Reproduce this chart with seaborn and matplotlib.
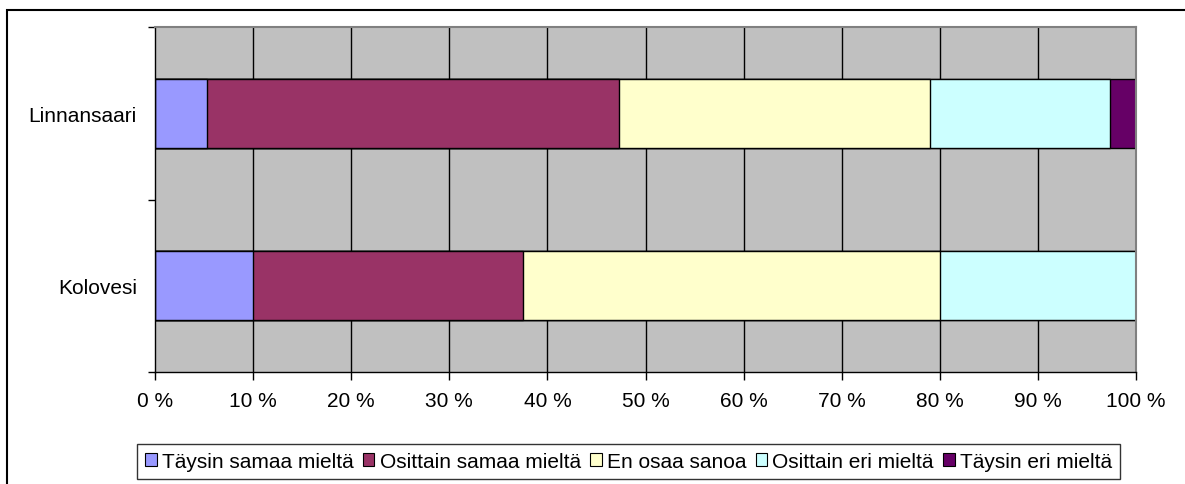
import matplotlib
matplotlib.use("Agg")
import matplotlib.pyplot as plt
import seaborn as sns
import numpy as np
import pandas as pd
from matplotlib.patches import Patch, Rectangle
from matplotlib.ticker import FixedLocator

categories = ["Linnansaari", "Kolovesi"]
series_names = ["Täysin samaa mieltä", "Osittain samaa mieltä", "En osaa sanoa",
                "Osittain eri mieltä", "Täysin eri mieltä"]
taysin_samaa = [5.3, 10.0]
osittain_samaa = [42.0, 27.5]
en_osaa = [31.7, 42.5]
osittain_eri = [18.4, 20.0]
taysin_eri = [2.6, 0.0]
colors = ["#9999FF", "#993366", "#FFFFCC", "#CCFFFF", "#660066"]
x_ticklabels = [f"{v} %" for v in range(0, 101, 10)]

sns.set_theme(style="white")
plt.rcParams['font.family'] = ['Liberation Sans', 'DejaVu Sans']
plt.rcParams['text.color'] = 'black'
plt.rcParams['xtick.color'] = 'black'
plt.rcParams['ytick.color'] = 'black'

FS = 15

W, H = 1185, 485
fig = plt.figure(figsize=(W / 100, H / 100), dpi=100)
ax = fig.add_axes([155 / W, 1 - 373 / H, (1136 - 155) / W, (373 - 28) / H])
ax.set_facecolor("#C0C0C0")

values = np.array([taysin_samaa, osittain_samaa, en_osaa, osittain_eri, taysin_eri])
cum = np.cumsum(values, axis=0)
cum[-1] = np.minimum(cum[-1], 100)

# vertical gridlines behind
for xv in range(10, 100, 10):
    ax.axvline(xv, color="#000000", lw=1.0, zorder=0.5)

for i in range(len(series_names) - 1, -1, -1):
    df = pd.DataFrame({"cat": categories, "val": cum[i]})
    sns.barplot(data=df, x="val", y="cat", orient="h", color=colors[i],
                width=0.4, edgecolor="black", linewidth=1.0, saturation=1,
                ax=ax, zorder=2)

ax.set_xlim(0, 100)
ax.set_ylim(1.5, -0.5)
ax.set_xlabel("")
ax.set_ylabel("")
ax.xaxis.set_major_locator(FixedLocator(range(0, 101, 10)))
ax.set_xticklabels(x_ticklabels, fontsize=FS, color="black")
ax.tick_params(axis="x", which="major", direction="out", length=6, width=1,
               color="black", pad=8, bottom=True)
ax.set_yticks([0, 1])
ax.set_yticklabels(categories, fontsize=FS, color="black")
ax.tick_params(axis="y", which="major", length=0, pad=13)
ax.yaxis.set_minor_locator(FixedLocator([-0.5, 0.5, 1.5]))
ax.tick_params(axis="y", which="minor", direction="out", length=5, width=1,
               color="black", left=True)

for s in ["left", "bottom"]:
    ax.spines[s].set_color("black")
    ax.spines[s].set_linewidth(1.0)
for s in ["top", "right"]:
    ax.spines[s].set_color("#808080")
    ax.spines[s].set_linewidth(1.5)

handles = [Patch(facecolor=c, edgecolor="black", linewidth=0.8) for c in colors]
leg = fig.legend(handles, series_names, loc="center",
                 bbox_to_anchor=(628.5 / W, 1 - 462.5 / H), ncol=5,
                 fontsize=FS, frameon=True, fancybox=False,
                 handlelength=0.55, handleheight=0.55, handletextpad=0.25,
                 columnspacing=0.45, borderpad=0.4, borderaxespad=0)
leg.get_frame().set_edgecolor("black")
leg.get_frame().set_linewidth(1.0)
for t in leg.get_texts():
    t.set_color("black")

fig.patches.append(Rectangle((7 / W, -0.1), 1.2, 1 - 11 / H + 0.1,
                             transform=fig.transFigure, fill=False,
                             edgecolor="black", lw=1.5, zorder=10))

fig.savefig("out.png", dpi=100)
